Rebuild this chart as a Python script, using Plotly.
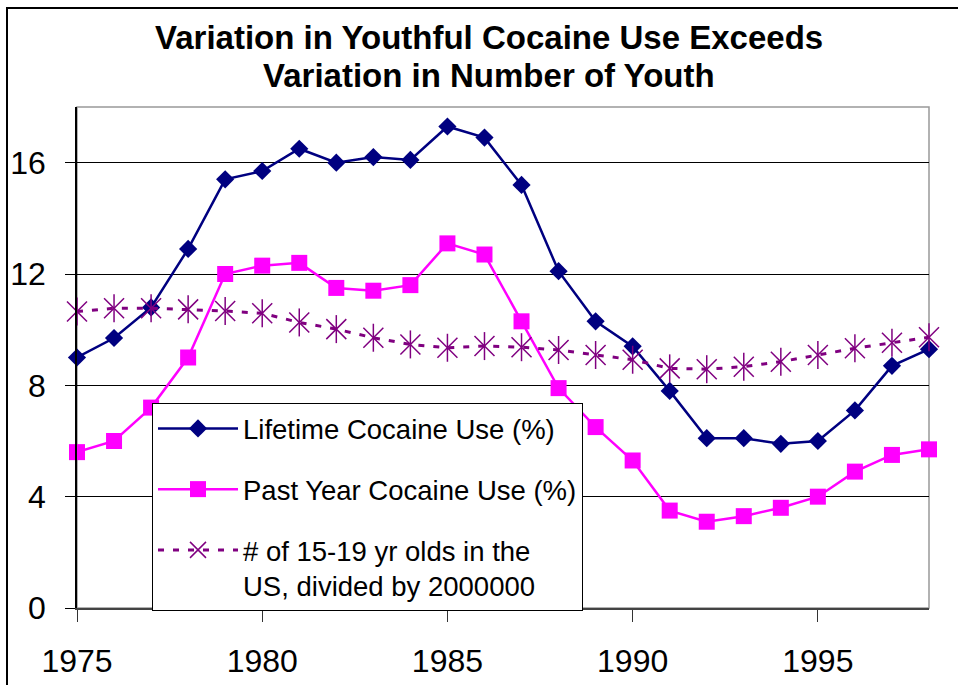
import plotly.graph_objects as go

years = list(range(1975, 1999))
lifetime = [9.0, 9.7, 10.8, 12.9, 15.4, 15.7, 16.5, 16.0, 16.2, 16.1, 17.3, 16.9,
            15.2, 12.1, 10.3, 9.4, 7.8, 6.1, 6.1, 5.9, 6.0, 7.1, 8.7, 9.3]
past_year = [5.6, 6.0, 7.2, 9.0, 12.0, 12.3, 12.4, 11.5, 11.4, 11.6, 13.1, 12.7,
             10.3, 7.9, 6.5, 5.3, 3.5, 3.1, 3.3, 3.6, 4.0, 4.9, 5.5, 5.7]
youth = [10.65, 10.77, 10.77, 10.73, 10.67, 10.59, 10.26, 10.02, 9.71, 9.47, 9.35, 9.41,
         9.37, 9.27, 9.09, 8.92, 8.61, 8.58, 8.67, 8.85, 9.09, 9.33, 9.53, 9.73]
names = ["Lifetime Cocaine Use (%)", "Past Year Cocaine Use (%)",
         "# of 15-19 yr olds in the<br>US, divided by 2000000"]
title_lines = ["Variation in Youthful Cocaine Use Exceeds", "Variation in Number of Youth"]
y_ticks = [0, 4, 8, 12, 16]

FONT = "Arial, Liberation Sans, sans-serif"

fig = go.Figure()
fig.add_trace(go.Scatter(
    x=years, y=lifetime, name=names[0], mode="lines+markers", legendgroup="a",
    line=dict(color="#000080", width=2.5),
    marker=dict(symbol="diamond", size=14, color="#000080"),
    cliponaxis=False))
fig.add_trace(go.Scatter(
    x=years, y=past_year, name=names[1], mode="lines+markers", legendgroup="b",
    line=dict(color="#FF00FF", width=2.5),
    marker=dict(symbol="square", size=16, color="#FF00FF"),
    cliponaxis=False))
fig.add_trace(go.Scatter(
    x=years, y=youth, name=names[2], mode="lines+markers", legendgroup="c",
    line=dict(color="#800080", width=3, dash="6px,9px"),
    marker=dict(symbol="x-thin-open", size=20, color="#800080",
                line=dict(color="#800080", width=1.5)),
    cliponaxis=False))
fig.add_trace(go.Scatter(
    x=years, y=youth, mode="markers", showlegend=False, legendgroup="c",
    marker=dict(symbol="line-ns-open", size=20, color="#800080",
                line=dict(color="#800080", width=1.5)),
    cliponaxis=False, hoverinfo="skip"))

fig.update_layout(
    width=958, height=685,
    margin=dict(l=77, r=29, t=107, b=77, autoexpand=False),
    paper_bgcolor="white", plot_bgcolor="white",
    font=dict(family=FONT, color="black"),
    legend=dict(x=(152 - 77) / 852, y=(608 - 403) / 501, xanchor="left", yanchor="top",
                bgcolor="white", bordercolor="black", borderwidth=1,
                font=dict(size=27.5, family=FONT, color="black"),
                itemwidth=80, traceorder="grouped", tracegroupgap=22, valign="top"),
    showlegend=True,
)
for i, (txt, ypix) in enumerate(zip(title_lines, [37, 75])):
    fig.add_annotation(text="<b>" + txt + "</b>", xref="paper", yref="paper",
                       x=(489 - 77) / 852, y=(608 - ypix) / 501, xanchor="center",
                       yanchor="middle", showarrow=False,
                       font=dict(size=33, family=FONT, color="black"))

fig.update_xaxes(range=[1975, 1998], tick0=1975, dtick=5, ticks="outside", ticklen=12,
                 tickcolor="#333", showgrid=False, showline=True, linecolor="#444",
                 linewidth=1.5, zeroline=False, tickfont=dict(size=32, family=FONT),
                 ticklabelstandoff=12, automargin=False)
fig.update_yaxes(range=[0, 18], tickvals=y_ticks, ticks="outside", ticklen=10,
                 tickcolor="black", showgrid=True, gridcolor="black", gridwidth=1,
                 showline=True, linecolor="black", linewidth=1.5, zeroline=False,
                 tickfont=dict(size=32, family=FONT), ticklabelstandoff=13,
                 automargin=False)

# plot-area frame (gray) and chart outer border
fig.add_shape(type="rect", xref="paper", yref="paper", x0=0, x1=1, y0=0, y1=1,
              line=dict(color="#999999", width=1.5), layer="below")
fig.add_shape(type="rect", xref="paper", yref="paper",
              x0=(7 - 77) / 852, x1=1.2, y0=-0.3, y1=(608 - 8) / 501,
              line=dict(color="black", width=2), layer="below")

fig.write_html("out.html")
